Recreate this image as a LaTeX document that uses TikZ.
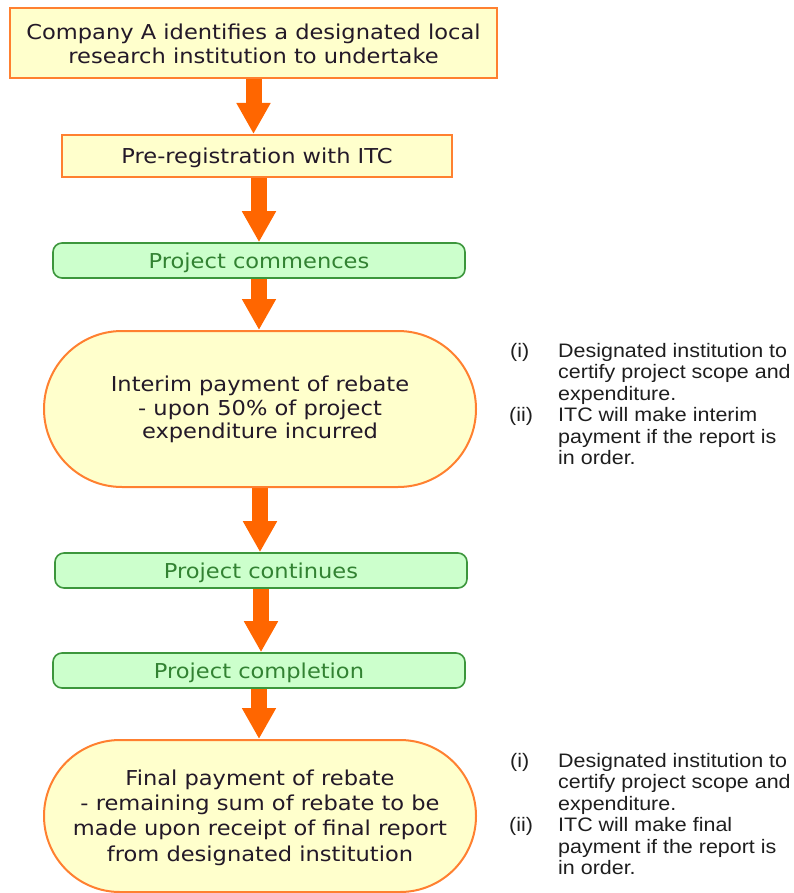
\documentclass[tikz,border=0pt]{standalone}
\usepackage{fontspec}
\setmainfont{DejaVu Sans}[FakeStretch=1.1]
\newfontfamily\notefont{Liberation Sans}[FakeStretch=1.1]
\usetikzlibrary{arrows.meta,backgrounds}
\definecolor{boxfill}{RGB}{255,255,204}
\definecolor{boxline}{RGB}{255,128,48}
\definecolor{arrowc}{RGB}{255,102,0}
\definecolor{greenfill}{RGB}{204,255,204}
\definecolor{greenline}{RGB}{60,150,60}
\definecolor{greentext}{RGB}{50,130,50}
\definecolor{maintext}{RGB}{35,25,40}
\definecolor{notetextc}{RGB}{30,30,30}
\newcommand\liftline[1]{\rule{0pt}{#1}}
\tikzset{
  orangebox/.style={draw=boxline, fill=boxfill, line width=2pt, inner sep=0pt,
    align=center, text=maintext, font=\fontsize{20.5}{24}\selectfont},
  greenbox/.style={draw=greenline, fill=greenfill, line width=1.6pt, inner sep=0pt,
    rounded corners=9pt, minimum width=412pt, minimum height=35pt,
    text=greentext, font=\fontsize{20.5}{24}\selectfont},
  flowarrow/.style={draw=arrowc, line width=16pt,
    -{Triangle[width=32pt,length=31pt]}},
  noteline/.style={anchor=base west, inner sep=0pt, text=notetextc,
    font=\notefont\fontsize{19.5}{21.5}\selectfont}
}
\begin{document}
\begin{tikzpicture}[x=1pt,y=-1pt]
\useasboundingbox (0,0) rectangle (794,893);
\node[orangebox, minimum width=487pt, minimum height=70pt] (top) at (253.5,43)
  {\liftline{17.6pt}Company A identifies a designated local\\research institution to undertake};
\node[orangebox, minimum width=390pt, minimum height=42pt] (pre) at (257,156)
  {\liftline{19.6pt}Pre-registration with ITC};
\node[greenbox] (comm) at (259,260.5) {\liftline{19.8pt}Project commences};
\node[orangebox, minimum width=432pt, minimum height=156pt, rounded corners=78pt,
  font=\fontsize{20.5}{23.5}\selectfont] (interim) at (260,409)
  {\liftline{17pt}Interim payment of rebate\\- upon 50\% of project\\expenditure incurred};
\node[greenbox] (cont) at (261,570.5) {\liftline{19.8pt}Project continues};
\node[greenbox] (compl) at (259,670.5) {\liftline{19.8pt}Project completion};
\node[orangebox, minimum width=432pt, minimum height=152pt, rounded corners=76pt,
  font=\fontsize{20.5}{25.3}\selectfont] (final) at (260,816)
  {\liftline{18.6pt}Final payment of rebate\\- remaining sum of rebate to be\\made upon receipt of final report\\from designated institution};
\begin{scope}[on background layer]
\draw[flowarrow] (top.south) -- (top.south |- pre.north);
\draw[flowarrow] (pre.south -| comm.north) -- (comm.north);
\draw[flowarrow] (comm.south) -- (comm.south |- interim.north);
\draw[flowarrow] (interim.south) -- (interim.south |- cont.north);
\draw[flowarrow] (cont.south) -- (cont.south |- compl.north);
\draw[flowarrow] (compl.south) -- (compl.south |- final.north);
\end{scope}
% notes for interim payment
\node[noteline] (ai) at (510,357) {(i)};
\node[noteline] (aii) at (509,421.5) {(ii)};
\foreach \t [count=\i] in {Designated institution to, certify project scope and, expenditure., ITC will make interim, payment if the report is, in order.}
  \node[noteline] (an\i) at (558,{357+(\i-1)*21.5}) {\t};
% notes for final payment
\node[noteline] (bi) at (510,767) {(i)};
\node[noteline] (bii) at (509,831.5) {(ii)};
\foreach \t [count=\i] in {Designated institution to, certify project scope and, expenditure., ITC will make final, payment if the report is, in order.}
  \node[noteline] (bn\i) at (558,{767+(\i-1)*21.5}) {\t};
\end{tikzpicture}
\end{document}
